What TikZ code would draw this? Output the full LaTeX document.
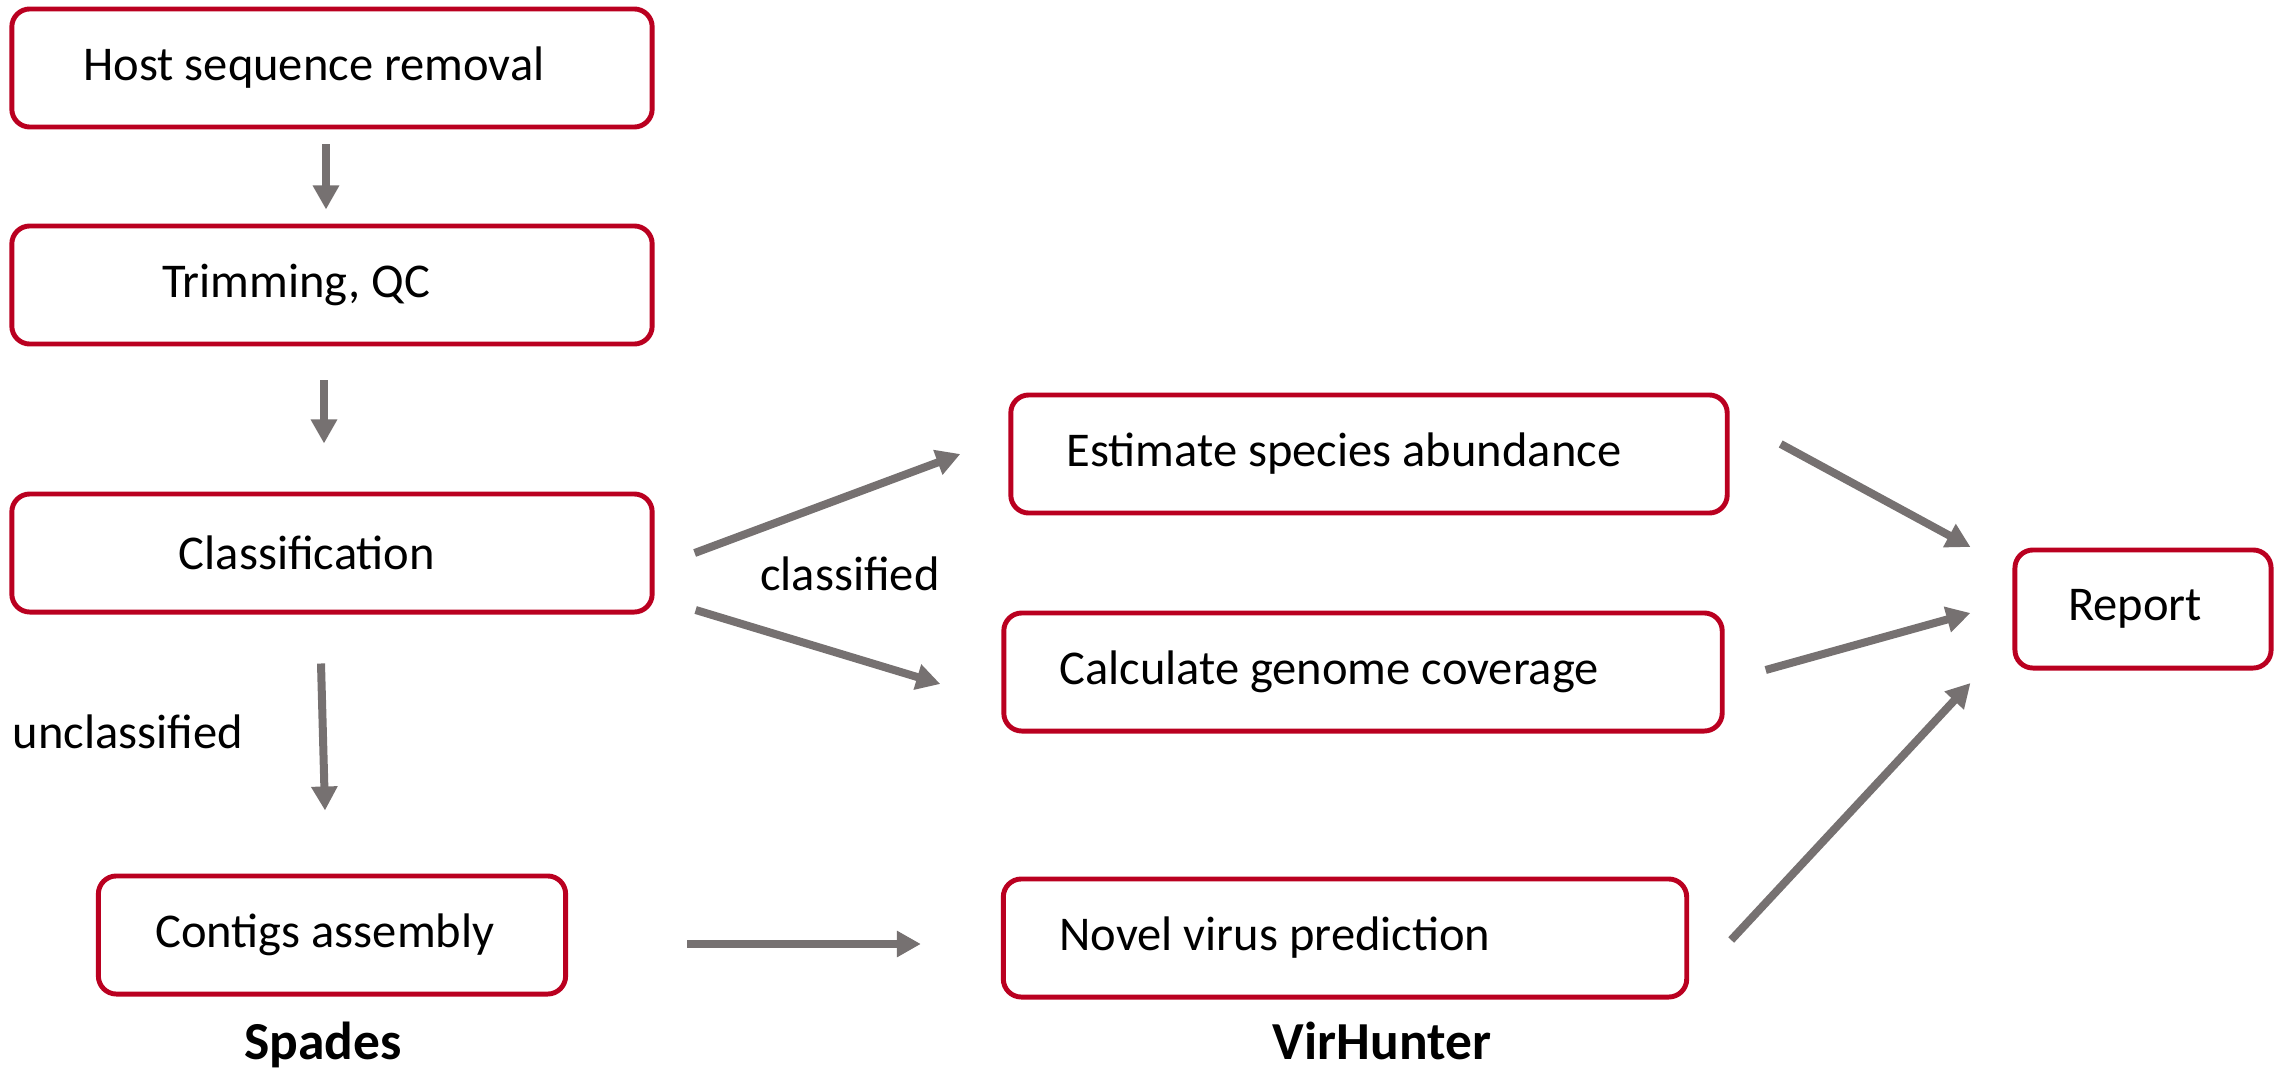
\documentclass[tikz,border=0pt]{standalone}
\usepackage{fontspec}
\setmainfont{Carlito}
\usepackage{tikz}
\usetikzlibrary{arrows.meta}
\usetikzlibrary{calc}

\definecolor{boxred}{RGB}{186,0,32}
\definecolor{arrowgray}{RGB}{118,113,113}

\begin{document}
\begin{tikzpicture}[
				x=0.01cm, y=-0.01cm,
				stepbox/.style={rectangle, rounded corners=0.18cm, draw=boxred, line width=1.4pt, minimum height=1.18cm, inner sep=0pt, font=\fontsize{13.8}{16}\selectfont},
				lbl/.style={anchor=base, inner sep=0pt, font=\fontsize{13.8}{16}\selectfont},
				toollbl/.style={anchor=base, inner sep=0pt, font=\fontsize{15.2}{18}\selectfont\bfseries},
				arrow/.style={-{Triangle[length=0.24cm, width=0.25cm]}, line width=0.08cm, draw=arrowgray}
			]
			\useasboundingbox (0,0) rectangle (2279,1073);

			% pipeline steps
			\node[stepbox, minimum width=6.4cm] (host) at (332,68) {Host sequence removal\hspace*{0.36cm}};
			\node[stepbox, minimum width=6.4cm] (trim) at (332,285) {Trimming, QC\hspace*{0.72cm}};
			\node[stepbox, minimum width=6.4cm] (cls) at (332,553) {Classification\hspace*{0.5cm}};
			\node[stepbox, minimum width=4.67cm] (ctg) at (332,935) {Contigs assembly\hspace*{0.14cm}};
			\node[stepbox, minimum width=7.16cm] (est) at (1369,454) {Estimate species abundance\hspace*{0.5cm}};
			\node[stepbox, minimum width=7.18cm] (cov) at (1363,672) {Calculate genome coverage\hspace*{0.68cm}};
			\node[stepbox, minimum width=6.83cm] (nov) at (1345,938) {Novel virus prediction\hspace*{1.4cm}};
			\node[stepbox, minimum width=2.56cm] (rep) at (2143,609) {Report\hspace*{0.16cm}};

			% edge labels and tool names
			\node[lbl] (lclass) at (850,590) {classified};
			\node[lbl] (lunclass) at (128,748) {unclassified};
			\node[toollbl] (spades) at (323,1059) {Spades};
			\node[toollbl] (virh) at (1382,1059) {VirHunter};

			\draw[arrow] ($(host.south)+(-6,15)$) -- ($(trim.north)+(-6,-14)$);
			\draw[arrow] ($(trim.south)+(-8,34)$) -- ($(cls.north)+(-8,-48)$);
			\draw[arrow] ($(cls.east)+(40,0)$) -- ($(est.west)+(-48,0)$);
			\draw[arrow] ($(cls.east)+(41,57)$) -- ($(cov.west)+(-61,12)$);
			\draw[arrow] ($(cls.south)+(-11,49)$) -- ($(ctg.north)+(-7,-63)$);
			\draw[arrow] ($(ctg.east)+(119,9)$) -- ($(nov.west)+(-80,6)$);
			\draw[arrow] ($(est.east)+(51,-10)$) -- ($(rep.west)+(-42,-62)$);
			\draw[arrow] ($(cov.east)+(41,-2)$) -- ($(rep.west)+(-42,4)$);
			\draw[arrow] ($(nov.east)+(42,2)$) -- ($(rep.west)+(-42,74)$);

		\end{tikzpicture}
\end{document}
